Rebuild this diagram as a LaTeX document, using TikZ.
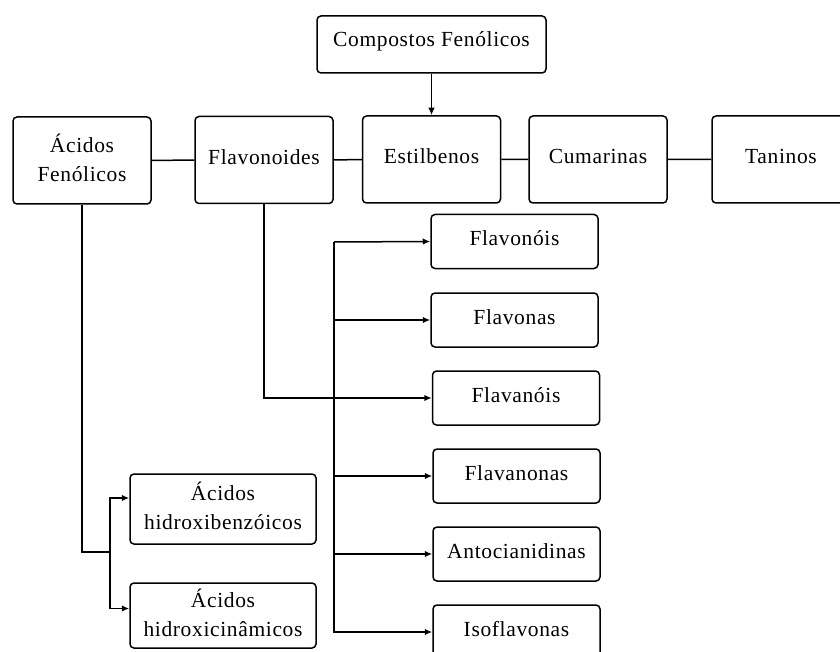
\documentclass[tikz,border=0pt]{standalone}
\usepackage{fontspec}
\setmainfont{Liberation Serif}[LetterSpace=3]
\usetikzlibrary{positioning,arrows.meta}

\begin{document}
\begin{tikzpicture}[x=1pt,y=-1pt,line width=1.5pt,
    box/.style={draw,rounded corners=4pt,align=center,inner sep=0pt,text depth=6pt,
      font=\fontsize{21.5}{29}\selectfont},
    rowbox/.style={box,minimum width=138pt,minimum height=87pt},
    subbox/.style={box,minimum width=167pt,minimum height=54pt},
    acidbox/.style={box,minimum width=186pt},
    tip/.style={-{Latex[length=7.5pt,width=6.5pt]}}]
      \useasboundingbox (0,0) rectangle (840,652);
      % top
      \node[box,text depth=11pt,minimum width=229pt,minimum height=57pt] (compostos) at (431.5,44.5) {Compostos Fenólicos};
      % main row
      \node[rowbox] (acidos) at (82,160.5) {Ácidos\\Fenólicos};
      \node[rowbox] (flavonoides) at (264,160) {Flavonoides};
      \node[rowbox] (estilbenos) at (431.5,159.5) {Estilbenos};
      \node[rowbox] (cumarinas) at (598,159.5) {Cumarinas};
      \node[rowbox] (taninos) at (781,159.5) {Taninos};
      % flavonoid classes
      \node[subbox] (flavonois) at (514.5,241.5) {Flavonóis};
      \node[subbox] (flavonas) at (514.5,320) {Flavonas};
      \node[subbox] (flavanois) at (516,398) {Flavanóis};
      \node[subbox] (flavanonas) at (516.5,476) {Flavanonas};
      \node[subbox] (antocianidinas) at (516.5,554) {Antocianidinas};
      \node[subbox] (isoflavonas) at (516.5,632) {Isoflavonas};
      % phenolic acids
      \node[acidbox,minimum height=70pt] (hbenzoicos) at (223,509) {Ácidos\\hidroxibenzóicos};
      \node[acidbox,minimum height=65pt] (hcinamicos) at (223,615.5) {Ácidos\\hidroxicinâmicos};

      \coordinate (fork) at (334,242);
      \coordinate (split) at (110,552);

      \draw[tip] (compostos) -- (estilbenos);
      \path[draw] (acidos) -- (flavonoides)
             (flavonoides) -- (estilbenos)
             (estilbenos) -- (cumarinas)
             (cumarinas) -- (taninos);
      \draw[tip] (flavonoides.south) |- (flavanois.west);
      \draw[tip] (fork) -- (flavonois.west);
      \draw[tip] (fork) |- (isoflavonas.west);
      \draw[tip] (fork |- flavonas.west) -- (flavonas.west);
      \draw[tip] (fork |- flavanonas.west) -- (flavanonas.west);
      \draw[tip] (fork |- antocianidinas.west) -- (antocianidinas.west);
      \draw (acidos.south) |- (split);
      \draw[tip] (split) |- ([yshift=11pt]hbenzoicos.west);
      \draw[tip] (split) |- ([yshift=7pt]hcinamicos.west);
    \end{tikzpicture}
\end{document}
